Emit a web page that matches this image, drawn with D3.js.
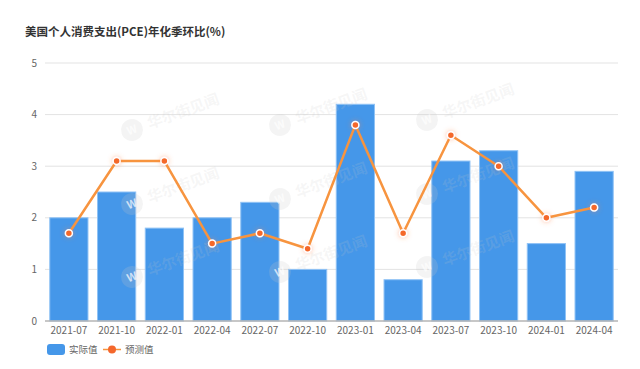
<!DOCTYPE html>
<html>
<head>
<meta charset="utf-8">
<script src="https://cdn.jsdelivr.net/npm/d3@7"></script>
<style>
  html, body { margin: 0; padding: 0; background: #fff; }
  svg { display: block; font-family: "Noto Sans CJK SC", "Noto Sans", sans-serif; }
</style>
</head>
<body>
<div id="chart"></div>
<script>
const categories = ["2021-07", "2021-10", "2022-01", "2022-04", "2022-07", "2022-10",
                    "2023-01", "2023-04", "2023-07", "2023-10", "2024-01", "2024-04"];
const actual   = [2.0, 2.5, 1.8, 2.0, 2.3, 1.0, 4.2, 0.8, 3.1, 3.3, 1.5, 2.9];
const forecast = [1.7, 3.1, 3.1, 1.5, 1.7, 1.4, 3.8, 1.7, 3.6, 3.0, 2.0, 2.2];
const yTicks = [0, 1, 2, 3, 4, 5];

const width = 640, height = 369;
const margin = { top: 63, right: 22, bottom: 48, left: 45 };

const svg = d3.select("#chart").append("svg")
    .attr("width", width)
    .attr("height", height);

const defs = svg.append("defs");
const glow = defs.append("filter").attr("id", "glow")
    .attr("x", "-100%").attr("y", "-100%").attr("width", "300%").attr("height", "300%");
glow.append("feDropShadow")
    .attr("dx", 0).attr("dy", 0).attr("stdDeviation", 2.5)
    .attr("flood-color", "#ff7a3a").attr("flood-opacity", 0.5);

const x = d3.scaleBand()
    .domain(categories)
    .range([margin.left, width - margin.right])
    .paddingInner(0.2)
    .paddingOuter(0.1);

const y = d3.scaleLinear()
    .domain([0, 5])
    .range([height - margin.bottom, margin.top]);

// title
svg.append("text")
    .attr("x", 25)
    .attr("y", 36)
    .attr("font-size", 11.5)
    .attr("font-weight", "bold")
    .attr("fill", "#333")
    .text("美国个人消费支出(PCE)年化季环比(%)");

// grid lines
svg.append("g")
    .selectAll("line")
    .data(yTicks.filter(d => d > 0))
    .join("line")
    .attr("x1", margin.left)
    .attr("x2", width - margin.right)
    .attr("y1", d => y(d))
    .attr("y2", d => y(d))
    .attr("stroke", "#e3e3e3")
    .attr("stroke-width", 1);

// y tick labels
svg.append("g")
    .selectAll("text")
    .data(yTicks)
    .join("text")
    .attr("x", 37)
    .attr("y", d => y(d))
    .attr("dy", "0.35em")
    .attr("text-anchor", "end")
    .attr("font-size", 10)
    .attr("fill", "#666")
    .text(d => d);

// bars
svg.append("g")
    .selectAll("rect")
    .data(actual)
    .join("rect")
    .attr("x", (d, i) => x(categories[i]))
    .attr("y", d => y(d))
    .attr("width", x.bandwidth())
    .attr("height", d => y(0) - y(d))
    .attr("fill", "#4597e9")
    .attr("stroke", "#8fc2f5")
    .attr("stroke-width", 1);

// watermark
const wm = svg.append("g").attr("pointer-events", "none");
const wmX = [132, 280, 427];
const wmY = [130, 204, 277];
wmX.forEach((cx, ci) => {
    wmY.forEach(cy => {
        const g = wm.append("g")
            .attr("transform", `translate(${cx},${cy - ci * 5}) rotate(-20)`);
        g.append("circle")
            .attr("r", 11)
            .attr("fill", "rgba(200,200,200,0.2)");
        g.append("text")
            .attr("text-anchor", "middle")
            .attr("dy", "0.35em")
            .attr("font-size", 11)
            .attr("font-weight", "bold")
            .attr("fill", "rgba(255,255,255,0.7)")
            .text("W");
        g.append("text")
            .attr("x", 17)
            .attr("dy", "0.35em")
            .attr("font-size", 15)
            .attr("font-weight", "bold")
            .attr("fill", "rgba(200,200,200,0.17)")
            .text("华尔街见闻");
    });
});

// x axis baseline
svg.append("line")
    .attr("x1", margin.left)
    .attr("x2", width - margin.right)
    .attr("y1", y(0))
    .attr("y2", y(0))
    .attr("stroke", "#b5b5b5")
    .attr("stroke-width", 1.5);

// x labels
svg.append("g")
    .selectAll("text")
    .data(categories)
    .join("text")
    .attr("x", d => x(d) + x.bandwidth() / 2)
    .attr("y", 334)
    .attr("text-anchor", "middle")
    .attr("font-size", 10)
    .attr("fill", "#666")
    .text(d => d);

// forecast line
const line = d3.line()
    .x((d, i) => x(categories[i]) + x.bandwidth() / 2)
    .y(d => y(d));

svg.append("path")
    .datum(forecast)
    .attr("d", line)
    .attr("fill", "none")
    .attr("stroke", "#f7943f")
    .attr("stroke-width", 2.5)
    .attr("stroke-linejoin", "round");

svg.append("g")
    .selectAll("circle")
    .data(forecast)
    .join("circle")
    .attr("cx", (d, i) => x(categories[i]) + x.bandwidth() / 2)
    .attr("cy", d => y(d))
    .attr("r", 3.5)
    .attr("fill", "#f4672c")
    .attr("stroke", "#fff")
    .attr("stroke-width", 1.5)
    .attr("filter", "url(#glow)");

// legend
const legend = svg.append("g");
legend.append("rect")
    .attr("x", 47).attr("y", 344)
    .attr("width", 18).attr("height", 11)
    .attr("rx", 3)
    .attr("fill", "#4597e9");
legend.append("text")
    .attr("x", 69).attr("y", 349.5)
    .attr("dy", "0.35em")
    .attr("font-size", 9.5)
    .attr("fill", "#666")
    .text("实际值");
legend.append("line")
    .attr("x1", 103).attr("x2", 121)
    .attr("y1", 349.5).attr("y2", 349.5)
    .attr("stroke", "#f7943f")
    .attr("stroke-width", 1.5);
legend.append("circle")
    .attr("cx", 112).attr("cy", 349.5)
    .attr("r", 4)
    .attr("fill", "#f4672c");
legend.append("text")
    .attr("x", 125).attr("y", 349.5)
    .attr("dy", "0.35em")
    .attr("font-size", 9.5)
    .attr("fill", "#666")
    .text("预测值");
</script>
</body>
</html>
